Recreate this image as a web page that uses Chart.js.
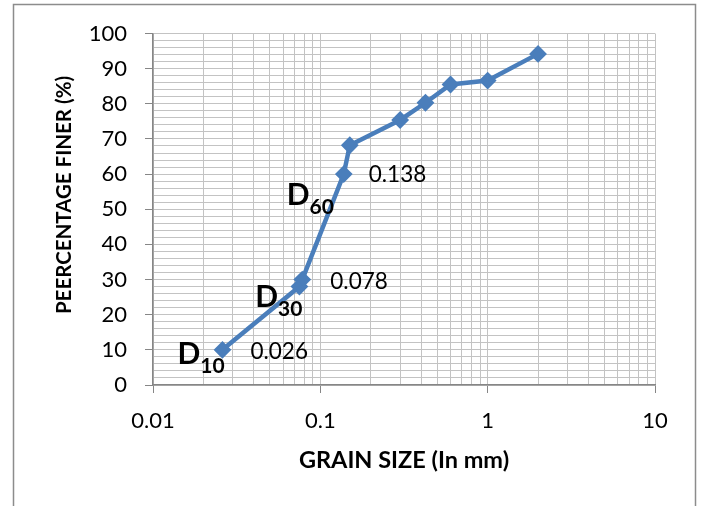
<!DOCTYPE html>
<html><head><meta charset="utf-8">
<script src="https://cdn.jsdelivr.net/npm/chart.js@4/dist/chart.umd.min.js"></script>
<style>html,body{margin:0;padding:0;background:#fff}#wrap{width:701px;height:506px}</style>
</head><body><div id="wrap"><canvas id="c" width="701" height="506"></canvas></div>
<script>
// ---- data ----
const grainSize = [0.026, 0.075, 0.078, 0.138, 0.15, 0.3, 0.425, 0.6, 1, 2];
const percentFiner = [10, 28, 30, 60, 68.2, 75.4, 80.3, 85.5, 86.6, 94.2];
const xTickValues = [0.01,0.02,0.03,0.04,0.05,0.06,0.07,0.08,0.09,
                     0.1,0.2,0.3,0.4,0.5,0.6,0.7,0.8,0.9,
                     1,2,3,4,5,6,7,8,9,10];
const xTickLabels = ['0.01','0.1','1','10'];
const yTickLabels = [0,10,20,30,40,50,60,70,80,90,100];
const annotPointIndex = [0, 2, 3];
const annotSubscript = ['10','30','60'];
const annotValueText = ['0.026','0.078','0.138'];
const xTitle = 'GRAIN SIZE (In mm)';
const yTitle = 'PEERCENTAGE FINER (%)';

const FONT = 'Lato';
const AXIS = '#868686';
const GRID = '#c3c3c3';
const isMajorX = v => Math.abs(Math.log10(v) - Math.round(Math.log10(v))) < 1e-9;

const framePlugin = {
  id: 'frame',
  beforeDraw(chart) {
    const c = chart.ctx;
    c.save();
    c.fillStyle = '#fff';
    c.fillRect(0, 0, chart.width, chart.height);
    c.strokeStyle = '#8c8c8c';
    c.lineWidth = 1.5;
    c.strokeRect(13.5, 4.5, 682, 600);
    c.restore();
  },
  afterDraw(chart) {
    const c = chart.ctx;
    c.save();
    c.translate(64.5, 195);
    c.rotate(-Math.PI / 2);
    c.fillStyle = '#000';
    c.font = 'bold 20.5px ' + FONT;
    c.textAlign = 'center';
    c.textBaseline = 'middle';
    c.fillText(yTitle, 0, 0);
    c.restore();
  }
};

const annotPlugin = {
  id: 'dlabels',
  afterDatasetsDraw(chart) {
    const c = chart.ctx;
    const xs = chart.scales.x, ys = chart.scales.y;
    const dOff = [[-45, 14], [-47, 27], [-57, 31]];
    const vOff = [[28, 2], [28, 2], [25, 1]];
    c.save();
    c.fillStyle = '#000';
    annotPointIndex.forEach((pi, k) => {
      const px = xs.getPixelForValue(grainSize[pi]);
      const py = ys.getPixelForValue(percentFiner[pi]);
      c.textBaseline = 'alphabetic';
      c.textAlign = 'left';
      c.font = 'bold 30px ' + FONT;
      const dx = px + dOff[k][0], dy = py + dOff[k][1];
      c.fillText('D', dx, dy);
      const dw = c.measureText('D').width;
      c.font = 'bold 21px ' + FONT;
      c.fillText(annotSubscript[k], dx + dw, dy + 9);
      c.font = '22.5px ' + FONT;
      c.textBaseline = 'middle';
      c.fillText(annotValueText[k], px + vOff[k][0], py + vOff[k][1]);
    });
    c.restore();
  }
};

new Chart(document.getElementById('c'), {
  type: 'line',
  data: {
    datasets: [{
      data: grainSize.map((x, i) => ({ x: x, y: percentFiner[i] })),
      borderColor: '#4a7ebb',
      backgroundColor: '#4a7ebb',
      borderWidth: 4.5,
      pointStyle: 'rectRot',
      pointRadius: 7.5,
      pointBorderWidth: 2,
      pointBorderColor: '#4a7ebb',
      pointBackgroundColor: '#4a7ebb',
      tension: 0,
      fill: false
    }]
  },
  options: {
    responsive: false,
    animation: false,
    devicePixelRatio: 1,
    layout: { padding: { top: 33.5, right: 46, left: 0, bottom: 0 } },
    plugins: { legend: { display: false }, tooltip: { enabled: false } },
    scales: {
      x: {
        type: 'logarithmic',
        min: 0.01, max: 10,
        afterBuildTicks: s => { s.ticks = xTickValues.map(v => ({ value: v })); },
        afterFit: s => { s.height = 121; },
        ticks: {
          autoSkip: false, maxRotation: 0, minRotation: 0, padding: 15,
          color: '#000', font: { family: FONT, size: 22 },
          callback: v => isMajorX(v) ? xTickLabels[Math.round(Math.log10(v)) + 2] : ''
        },
        grid: {
          color: GRID, lineWidth: 1, tickLength: 8,
          tickColor: ctx => (ctx.tick && isMajorX(ctx.tick.value)) ? AXIS : 'rgba(0,0,0,0)'
        },
        border: { color: AXIS, width: 1.5 },
        title: {
          display: true, text: xTitle, color: '#000',
          font: { family: FONT, size: 23.5, weight: 'bold' },
          padding: { top: 0, bottom: 31 }
        }
      },
      y: {
        min: 0, max: 100,
        afterFit: s => { s.width = 153; },
        ticks: {
          stepSize: 2, autoSkip: false, padding: 18,
          color: '#000', font: { family: FONT, size: 22 },
          callback: v => yTickLabels.includes(v) ? String(v) : ''
        },
        grid: {
          color: GRID, lineWidth: 1, tickLength: 8,
          tickColor: ctx => (ctx.tick && ctx.tick.value % 10 === 0) ? AXIS : 'rgba(0,0,0,0)'
        },
        border: { color: AXIS, width: 1.5 },
        title: { display: false }
      }
    }
  },
  plugins: [framePlugin, annotPlugin]
});
</script>
</body></html>
